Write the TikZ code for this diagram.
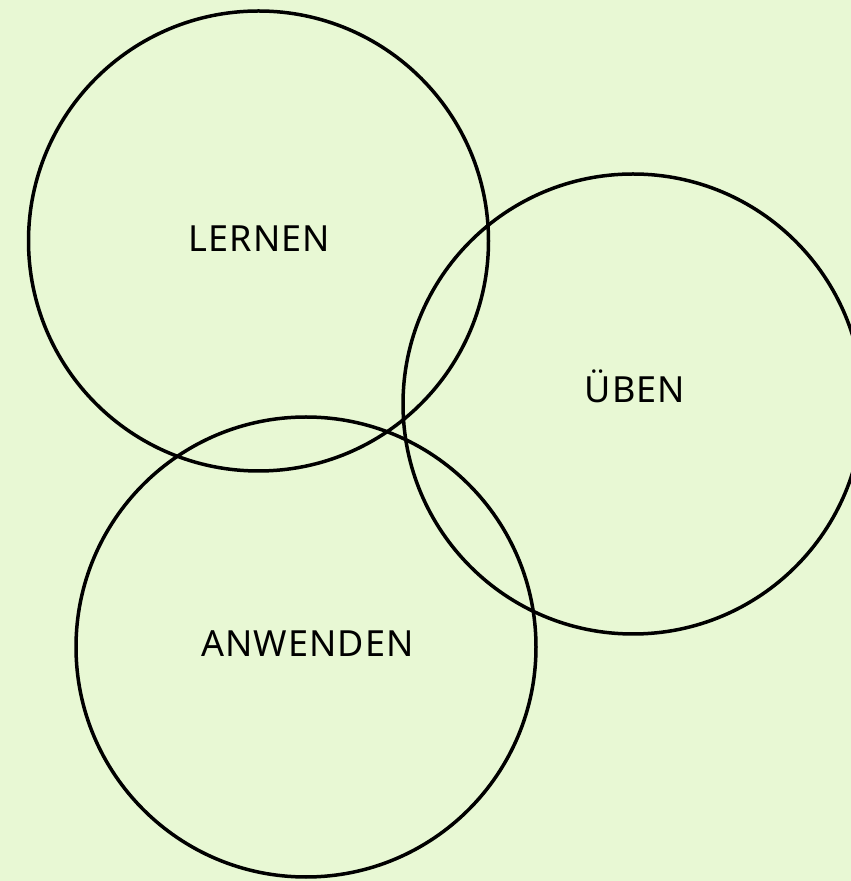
\documentclass[tikz,border=0pt]{standalone}
\usepackage{fontspec}
\setmainfont{Noto Sans}[LetterSpace=3]
\definecolor{bgc}{HTML}{E8F8D4}
\begin{document}
\begin{tikzpicture}[x=1pt,y=1pt,
  ring/.style={circle,draw=black,line width=3.5pt,minimum size=460pt,inner sep=0pt},
  lbl/.style={anchor=base,font=\fontsize{36}{42}\selectfont,text=black,inner sep=0pt}]
\clip (0,0) rectangle (851,881);
\fill[bgc] (0,0) rectangle (851,881);
\node[ring] (lernen) at (258.5,640) {};
\node[ring] (ueben) at (633,477) {};
\node[ring] (anwenden) at (306,234) {};
\node[lbl] (tl) at (259.5,629) {LERNEN};
\node[lbl] (tu) at (635,478) {ÜBEN};
\node[lbl] (ta) at (307.5,224) {ANWENDEN};
\end{tikzpicture}
\end{document}
